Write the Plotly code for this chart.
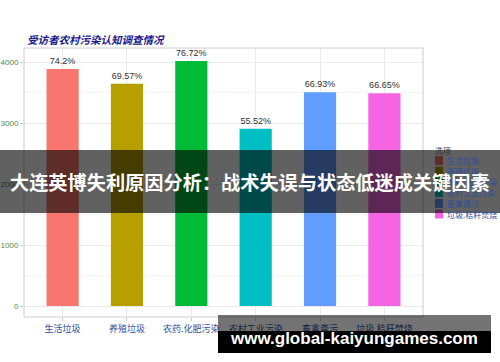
import plotly.graph_objects as go

categories = ["生活垃圾", "养殖垃圾", "农药.化肥污染", "农村工业污染", "畜禽粪污", "垃圾.秸秆焚烧"]
counts = [3885, 3643, 4017, 2907, 3504, 3490]
percents = [74.2, 69.57, 76.72, 55.52, 66.93, 66.65]
colors = ["#F8766D", "#B79F00", "#00BA38", "#00BFC4", "#619CFF", "#F564E3"]
y_ticks = [0, 1000, 2000, 3000, 4000]
legend_title = "选项"

W, H = 500, 362
L, R, T, B = 24, 423, 48, 317


def px(x):
    return (x - L) / (R - L)


def py(y):
    return (B - y) / (B - T)


fig = go.Figure()
fig.add_trace(go.Bar(
    x=categories, y=counts, width=0.5,
    marker=dict(color=colors, line=dict(width=0)),
    text=[f"{p}%" for p in percents], textposition="outside", cliponaxis=False,
    textfont=dict(size=9, color="#333333", family="Liberation Sans"),
    showlegend=False,
))

shapes = [
    dict(type="rect", xref="paper", yref="paper", x0=0, x1=1, y0=0, y1=1,
         line=dict(color="#cccccc", width=1), fillcolor="rgba(0,0,0,0)", layer="above"),
]
annotations = [
    dict(text="受访者农村污染认知调查情况", xref="paper", yref="paper", x=px(25), y=py(40),
         xanchor="left", yanchor="middle", showarrow=False,
         font=dict(size=10.5, color="#1a1a8c", family="Noto Sans CJK SC", weight="bold", style="italic")),
    dict(text=legend_title, xref="paper", yref="paper", x=px(433), y=py(150),
         xanchor="left", yanchor="middle", showarrow=False,
         font=dict(size=8, color="#333333", family="Noto Sans CJK SC")),
]

# manual legend (compact like the reference)
for i, (c, col) in enumerate(zip(categories, colors)):
    yc = 160.5 + i * 10.7
    shapes.append(dict(type="rect", xref="paper", yref="paper",
                       x0=px(435), x1=px(443), y0=py(yc + 4.5), y1=py(yc - 4.5),
                       line=dict(width=0), fillcolor=col, layer="above"))
    annotations.append(dict(text=c, xref="paper", yref="paper", x=px(445), y=py(yc),
                            xanchor="left", yanchor="middle", showarrow=False,
                            font=dict(size=8, color="#2a4fa0", family="Noto Sans CJK SC")))

# overlays present in the reference image
shapes += [
    dict(type="rect", xref="paper", yref="paper", x0=px(0), x1=px(500), y0=py(213), y1=py(150),
         line=dict(width=0), fillcolor="rgba(0,0,0,0.62)", layer="above"),
    dict(type="rect", xref="paper", yref="paper", x0=px(218), x1=px(491), y0=py(331), y1=py(315),
         line=dict(width=0), fillcolor="rgba(0,0,0,0.55)", layer="above"),
    dict(type="rect", xref="paper", yref="paper", x0=px(218), x1=px(491), y0=py(353), y1=py(331),
         line=dict(width=0), fillcolor="#000000", layer="above"),
]
annotations += [
    dict(text="大连英博失利原因分析：战术失误与状态低迷成关键因素", xref="paper", yref="paper",
         x=px(250), y=py(182), xanchor="center", yanchor="middle", showarrow=False,
         font=dict(size=19.2, color="white", family="Noto Sans CJK SC", weight="bold")),
    dict(text="www.global-kaiyungames.com", xref="paper", yref="paper",
         x=px(354), y=py(338), xanchor="center", yanchor="middle", showarrow=False,
         font=dict(size=17, color="white", family="Liberation Sans", weight="bold")),
]

fig.update_layout(
    width=W, height=H,
    margin=dict(l=L, r=W - R, t=T, b=H - B, pad=0, autoexpand=False),
    paper_bgcolor="white", plot_bgcolor="white",
    showlegend=False,
    xaxis=dict(
        range=[-0.6, 5.6], showgrid=True, gridcolor="#ebebeb", gridwidth=1,
        ticks="outside", ticklen=3, tickcolor="#cccccc", tickangle=0,
        tickfont=dict(size=9, color="#2a4fa0", family="Noto Sans CJK SC"),
        showline=False, zeroline=False, automargin=False,
    ),
    yaxis=dict(
        range=[-180, 4230], tickvals=y_ticks, showgrid=True, gridcolor="#ebebeb", gridwidth=1,
        minor=dict(dtick=500, tick0=0, showgrid=True, gridcolor="#f5f5f5", gridwidth=1),
        ticks="outside", ticklen=3, tickcolor="#cccccc",
        tickfont=dict(size=8, color="#4e8a4e", family="Liberation Sans"),
        showline=False, zeroline=False, automargin=False,
    ),
    shapes=shapes,
    annotations=annotations,
)

fig.write_html("out.html")
